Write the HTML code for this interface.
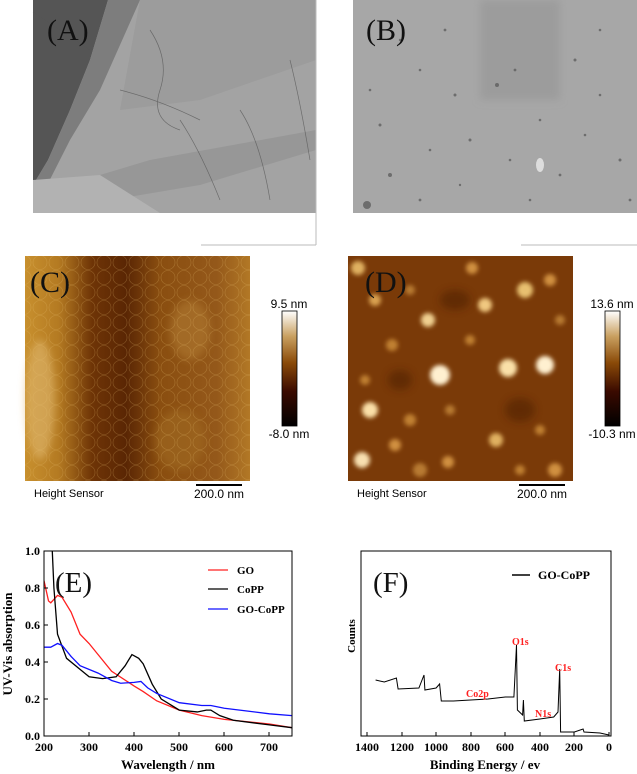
<!DOCTYPE html>
<html><head><meta charset="utf-8"><style>
html,body{margin:0;padding:0;background:#fff;width:637px;height:774px;overflow:hidden}
svg{display:block}
.s{font-family:"Liberation Serif",serif}
.a{font-family:"Liberation Sans",sans-serif}
</style></head><body>
<svg width="637" height="774" viewBox="0 0 637 774" xmlns="http://www.w3.org/2000/svg">
<defs>
<filter id="blur2"><feGaussianBlur stdDeviation="2"/></filter>
<filter id="blur4"><feGaussianBlur stdDeviation="4"/></filter>
<linearGradient id="cbar" x1="0" y1="1" x2="0" y2="0">
<stop offset="0" stop-color="#000"/><stop offset="0.3" stop-color="#3a0a00"/><stop offset="0.55" stop-color="#8a4a08"/><stop offset="0.78" stop-color="#c9a060"/><stop offset="1" stop-color="#fff"/>
</linearGradient>
<linearGradient id="cbg" x1="0" y1="0" x2="1" y2="0">
<stop offset="0" stop-color="#c8902e"/><stop offset="0.15" stop-color="#b47a22"/><stop offset="0.3" stop-color="#6e3406"/><stop offset="0.45" stop-color="#5a2604"/><stop offset="0.6" stop-color="#8a4e10"/><stop offset="0.85" stop-color="#94581a"/><stop offset="1" stop-color="#b27826"/>
</linearGradient>
<pattern id="cells" width="16" height="15" patternUnits="userSpaceOnUse">
<circle cx="8" cy="7.5" r="7" fill="none" stroke="#e8c070" stroke-width="0.6" opacity="0.3"/>
</pattern>
</defs>

<!-- A TEM -->
<rect x="33" y="0" width="283" height="213" fill="#a3a3a3"/>
<polygon points="33,0 108,0 90,60 70,110 48,160 33,185" fill="#555"/>
<polygon points="108,0 140,0 100,90 70,140 33,213 33,185 48,160 70,110 90,60" fill="#7d7d7d"/>
<polygon points="33,195 150,160 316,130 316,150 200,185 33,213" fill="#979797"/>
<polygon points="140,0 316,0 316,60 200,100 120,110" fill="#9c9c9c"/>
<polygon points="33,213 33,180 100,175 160,213" fill="#b2b2b2"/>
<g stroke="#555" stroke-width="0.7" fill="none" opacity="0.7">
<line x1="33" y1="12" x2="90" y2="50"/>
<path d="M150 30 Q170 60 160 90 T180 130"/>
<path d="M180 120 Q200 150 220 200"/>
<path d="M240 110 Q260 140 270 200"/>
<path d="M120 90 Q160 100 200 120"/>
<path d="M290 60 Q300 100 310 160"/>
</g>
<line x1="201" y1="245" x2="316" y2="245" stroke="#bbb"/>
<line x1="316" y1="0" x2="316" y2="245" stroke="#bbb"/>
<text x="47" y="40" class="s" font-size="30" fill="#111">(A)</text>

<!-- B TEM -->
<rect x="353" y="0" width="284" height="213" fill="#a7a7a7"/>
<rect x="480" y="0" width="80" height="100" fill="#9c9c9c" filter="url(#blur4)"/>
<g fill="#555" opacity="0.7">
<circle cx="380" cy="125" r="1.5"/><circle cx="420" cy="70" r="1.3"/><circle cx="455" cy="95" r="1.5"/><circle cx="497" cy="85" r="2"/>
<circle cx="515" cy="70" r="1.4"/><circle cx="540" cy="120" r="1.3"/><circle cx="575" cy="60" r="1.5"/><circle cx="600" cy="95" r="1.3"/>
<circle cx="390" cy="175" r="2"/><circle cx="430" cy="150" r="1.3"/><circle cx="470" cy="140" r="1.5"/><circle cx="510" cy="160" r="1.3"/>
<circle cx="560" cy="175" r="1.4"/><circle cx="620" cy="160" r="1.5"/><circle cx="400" cy="40" r="1.2"/><circle cx="445" cy="30" r="1.4"/>
<circle cx="600" cy="30" r="1.3"/><circle cx="367" cy="205" r="4"/><circle cx="420" cy="200" r="1.4"/><circle cx="630" cy="200" r="1.4"/>
<circle cx="460" cy="185" r="1.2"/><circle cx="530" cy="200" r="1.3"/><circle cx="585" cy="135" r="1.3"/><circle cx="370" cy="90" r="1.3"/>
</g>
<ellipse cx="540" cy="165" rx="4" ry="7" fill="#ddd"/>
<line x1="521" y1="245" x2="637" y2="245" stroke="#bbb"/>
<text x="366" y="40" class="s" font-size="30" fill="#111">(B)</text>

<!-- C AFM -->
<rect x="25" y="256" width="225" height="225" fill="url(#cbg)"/>
<g filter="url(#blur4)" opacity="0.6">
<ellipse cx="40" cy="400" rx="15" ry="60" fill="#e0b870"/>
<ellipse cx="190" cy="330" rx="20" ry="30" fill="#b07a30"/>
<ellipse cx="180" cy="440" rx="25" ry="30" fill="#a06a20"/>
</g>
<rect x="25" y="256" width="225" height="225" fill="url(#cells)"/>
<text x="30" y="292" class="s" font-size="30" fill="#111">(C)</text>
<rect x="282" y="311" width="15" height="115" fill="url(#cbar)" stroke="#000" stroke-width="0.8"/>
<text x="289" y="308" class="a" font-size="12" text-anchor="middle">9.5 nm</text>
<text x="289" y="438" class="a" font-size="12" text-anchor="middle">-8.0 nm</text>
<text x="34" y="497" class="a" font-size="11">Height Sensor</text>
<line x1="196" y1="485" x2="242" y2="485" stroke="#000" stroke-width="2"/>
<text x="219" y="498" class="a" font-size="12" text-anchor="middle">200.0 nm</text>

<!-- D AFM -->
<rect x="348" y="256" width="225" height="225" fill="#7a3a08"/>
<g filter="url(#blur2)">
<circle cx="358" cy="268" r="7" fill="#e0b060"/><circle cx="375" cy="300" r="6" fill="#d8a050"/>
<circle cx="428" cy="320" r="7" fill="#f0d090"/><circle cx="472" cy="268" r="6" fill="#d09040"/>
<circle cx="485" cy="305" r="7" fill="#f0c880"/><circle cx="525" cy="290" r="8" fill="#e8c070"/>
<circle cx="550" cy="280" r="6" fill="#d09040"/><circle cx="392" cy="345" r="6" fill="#c08030"/>
<circle cx="440" cy="375" r="10" fill="#fff0d0"/><circle cx="508" cy="368" r="9" fill="#fae0a8"/>
<circle cx="545" cy="365" r="9" fill="#fff0d0"/><circle cx="370" cy="410" r="8" fill="#fae0a8"/>
<circle cx="410" cy="420" r="6" fill="#c08030"/><circle cx="450" cy="410" r="5" fill="#b87a30"/>
<circle cx="496" cy="440" r="7" fill="#e0b060"/><circle cx="540" cy="430" r="5" fill="#c08030"/>
<circle cx="362" cy="460" r="8" fill="#f8e0b0"/><circle cx="395" cy="445" r="6" fill="#d09040"/>
<circle cx="448" cy="462" r="6" fill="#d09040"/><circle cx="420" cy="470" r="7" fill="#b87a30"/>
<circle cx="555" cy="470" r="7" fill="#d09040"/><circle cx="520" cy="470" r="5" fill="#c08030"/>
<circle cx="470" cy="340" r="5" fill="#c08030"/><circle cx="410" cy="290" r="5" fill="#b87a30"/>
<circle cx="560" cy="320" r="5" fill="#b87a30"/><circle cx="365" cy="380" r="5" fill="#c08030"/>
</g>
<g fill="#4a1a02" opacity="0.5" filter="url(#blur4)">
<ellipse cx="455" cy="300" rx="15" ry="10"/><ellipse cx="520" cy="410" rx="15" ry="12"/><ellipse cx="400" cy="380" rx="12" ry="10"/>
</g>
<text x="365" y="292" class="s" font-size="30" fill="#111">(D)</text>
<rect x="605" y="311" width="15" height="115" fill="url(#cbar)" stroke="#000" stroke-width="0.8"/>
<text x="612" y="308" class="a" font-size="12" text-anchor="middle">13.6 nm</text>
<text x="612" y="438" class="a" font-size="12" text-anchor="middle">-10.3 nm</text>
<text x="357" y="497" class="a" font-size="11">Height Sensor</text>
<line x1="519" y1="485" x2="565" y2="485" stroke="#000" stroke-width="2"/>
<text x="542" y="498" class="a" font-size="12" text-anchor="middle">200.0 nm</text>

<!-- E chart -->
<clipPath id="ce"><rect x="44" y="551" width="248" height="185"/></clipPath>
<g clip-path="url(#ce)">
<g transform="translate(44,736) scale(0.45091,-185)" fill="none" stroke-width="1.3">
<polyline vector-effect="non-scaling-stroke" stroke="#ff2020" points="0,.84 10,.73 15,.72 30,.76 40,.75 60,.67 80,.55 100,.5 120,.44 150,.35 200,.27 220,.24 250,.19 300,.14 350,.11 400,.09 500,.065 550,.045"/>
<polyline vector-effect="non-scaling-stroke" stroke="#000" points="18,1.02 22,.8 30,.55 50,.42 80,.36 100,.32 130,.31 160,.32 180,.38 195,.44 210,.42 220,.39 240,.28 260,.2 300,.14 340,.13 360,.14 370,.14 390,.11 420,.085 500,.06 550,.045"/>
<polyline vector-effect="non-scaling-stroke" stroke="#1010ff" points="0,.48 15,.48 30,.5 40,.49 60,.43 80,.38 120,.34 150,.3 170,.285 200,.29 215,.295 230,.26 250,.23 300,.18 350,.165 370,.165 400,.15 450,.135 500,.12 550,.11"/>
</g>
</g>
<rect x="44" y="551" width="248" height="185" fill="none" stroke="#000" stroke-width="1"/>
<g stroke="#000" stroke-width="1">
<line x1="44" y1="736" x2="44" y2="732"/><line x1="89" y1="736" x2="89" y2="732"/><line x1="134" y1="736" x2="134" y2="732"/><line x1="179" y1="736" x2="179" y2="732"/><line x1="224" y1="736" x2="224" y2="732"/><line x1="269" y1="736" x2="269" y2="732"/>
<line x1="44" y1="699" x2="48" y2="699"/><line x1="44" y1="662" x2="48" y2="662"/><line x1="44" y1="625" x2="48" y2="625"/><line x1="44" y1="588" x2="48" y2="588"/>
</g>
<g class="s" font-size="12" font-weight="bold" text-anchor="end">
<text x="40" y="740">0.0</text><text x="40" y="703">0.2</text><text x="40" y="666">0.4</text><text x="40" y="629">0.6</text><text x="40" y="592">0.8</text><text x="40" y="555">1.0</text>
</g>
<g class="s" font-size="12" font-weight="bold" text-anchor="middle">
<text x="44" y="751">200</text><text x="89" y="751">300</text><text x="134" y="751">400</text><text x="179" y="751">500</text><text x="224" y="751">600</text><text x="269" y="751">700</text>
</g>
<text x="168" y="769" class="s" font-size="13" font-weight="bold" text-anchor="middle">Wavelength / nm</text>
<text transform="translate(12,644) rotate(-90)" class="s" font-size="13" font-weight="bold" text-anchor="middle">UV-Vis absorption</text>
<text x="55" y="592" class="s" font-size="29" fill="#111">(E)</text>
<line x1="208" y1="570" x2="228" y2="570" stroke="#ff2020" stroke-width="1.3"/>
<line x1="208" y1="589" x2="228" y2="589" stroke="#000" stroke-width="1.3"/>
<line x1="208" y1="609" x2="228" y2="609" stroke="#1010ff" stroke-width="1.3"/>
<g class="s" font-size="11" font-weight="bold"><text x="237" y="574">GO</text><text x="237" y="593">CoPP</text><text x="237" y="613">GO-CoPP</text></g>

<!-- F chart -->
<polyline fill="none" stroke="#000" stroke-width="1" points="375.6,680 384.3,682 396.4,678 398.1,689 418.9,688 424.0,675 424.9,690 436.1,688 439.6,684 441.3,701 453.4,701 470.7,700 488.0,699 505.3,697 513.9,697 516.5,645 517.4,710 522.6,715 523.4,700 524.3,721 539.9,719 553.7,717 558.0,712 559.7,669 560.6,732 574.4,732 583.1,729 584,732 600,733 609,735"/>
<rect x="361" y="551" width="250" height="185" fill="none" stroke="#000" stroke-width="1"/>
<g stroke="#000" stroke-width="1">
<line x1="367" y1="736" x2="367" y2="732"/><line x1="402" y1="736" x2="402" y2="732"/><line x1="436" y1="736" x2="436" y2="732"/><line x1="471" y1="736" x2="471" y2="732"/><line x1="505" y1="736" x2="505" y2="732"/><line x1="540" y1="736" x2="540" y2="732"/><line x1="574" y1="736" x2="574" y2="732"/><line x1="609" y1="736" x2="609" y2="732"/>
</g>
<g class="s" font-size="12" font-weight="bold" text-anchor="middle">
<text x="367" y="751">1400</text><text x="402" y="751">1200</text><text x="436" y="751">1000</text><text x="471" y="751">800</text><text x="505" y="751">600</text><text x="540" y="751">400</text><text x="574" y="751">200</text><text x="609" y="751">0</text>
</g>
<text x="485" y="769" class="s" font-size="13" font-weight="bold" text-anchor="middle">Binding Energy / ev</text>
<text transform="translate(355,636) rotate(-90)" class="s" font-size="11" font-weight="bold" text-anchor="middle">Counts</text>
<text x="373" y="592" class="s" font-size="29" fill="#111">(F)</text>
<line x1="512" y1="575" x2="530" y2="575" stroke="#000" stroke-width="1.5"/>
<text x="538" y="579" class="s" font-size="12" font-weight="bold">GO-CoPP</text>
<g class="s" font-size="10" font-weight="bold" fill="#ff2020">
<text x="512" y="645">O1s</text><text x="555" y="671">C1s</text><text x="466" y="697">Co2p</text><text x="535" y="717">N1s</text>
</g>
</svg>
</body></html>
